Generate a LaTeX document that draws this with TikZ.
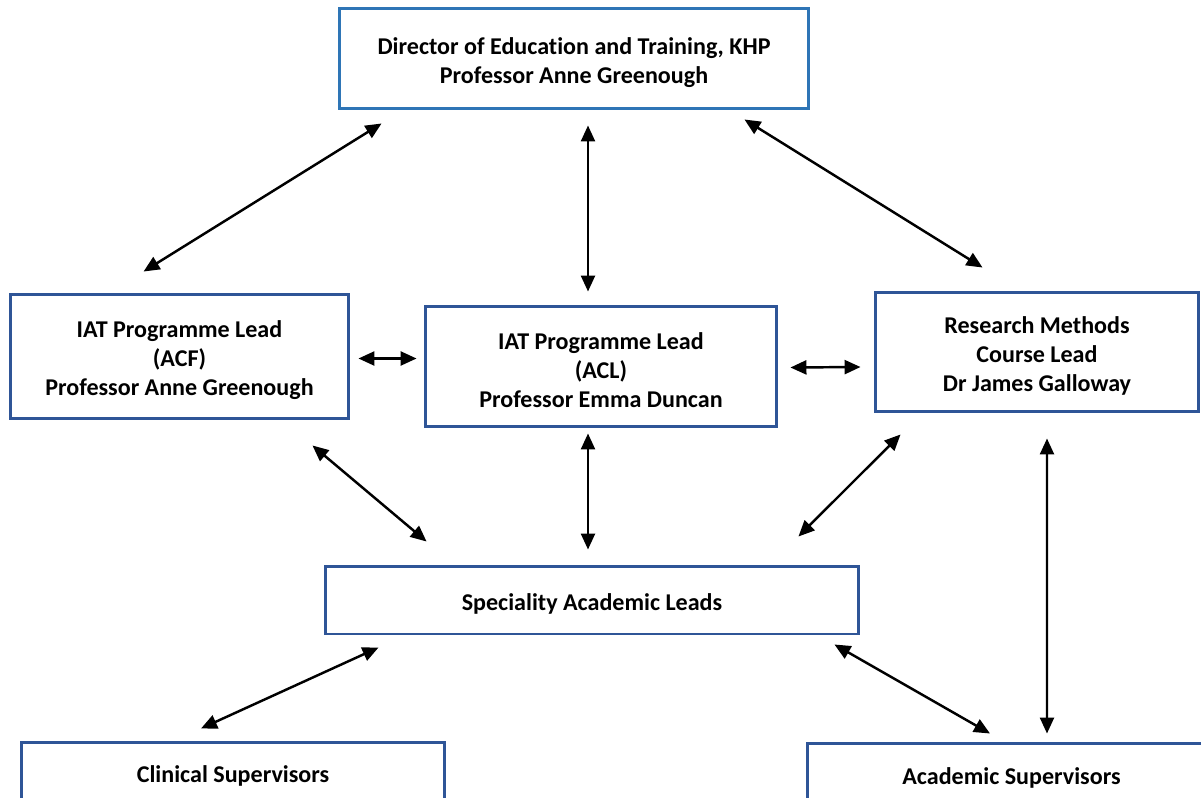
\documentclass[tikz,border=0pt]{standalone}
\usepackage{fontspec}
\setmainfont{Carlito}[Ligatures=NoCommon]
\usetikzlibrary{arrows.meta,calc}
\definecolor{topblue}{RGB}{46,117,182}
\definecolor{boxblue}{RGB}{47,85,151}
\newcommand\boxlift{\rule{0pt}{14pt}}
\begin{document}
\begin{tikzpicture}[x=0.02cm,y=-0.02cm]
\tikzstyle{every node}+=[inner sep=0pt]
\tikzstyle{box}=[draw=boxblue,line width=1.7pt,fill=white,align=center,font=\fontsize{13.7}{16.6}\selectfont\bfseries]
\tikzstyle{link}=[line width=1.4pt,{Triangle[length=3.2mm,width=2.8mm]}-{Triangle[length=3.2mm,width=2.8mm]}]
\clip (0,0) rectangle (1201,798);
\fill[white] (0,0) rectangle (1201,798);
\node[box,draw=topblue,minimum width=9.4cm,minimum height=2.02cm] (top) at (574,58.5) {\boxlift Director of Education and Training, KHP\\Professor Anne Greenough};
\node[box,minimum width=6.78cm,minimum height=2.5cm] (acf) at (179.5,356.5) {\boxlift IAT Programme Lead\\(ACF)\\Professor Anne Greenough};
\node[box,minimum width=7.04cm,minimum height=2.42cm] (acl) at (601,366.5) {\boxlift IAT Programme Lead\\(ACL)\\Professor Emma Duncan};
\node[box,minimum width=6.48cm,minimum height=2.4cm] (rm) at (1037,352) {\boxlift Research Methods\\Course Lead\\Dr James Galloway};
\node[box,minimum width=10.68cm,minimum height=1.36cm] (spec) at (592,600) {\boxlift Speciality Academic Leads};
\node[box,minimum width=8.48cm,minimum height=1.2cm] (clin) at (233,772) {\boxlift Clinical Supervisors};
\node[box,minimum width=8.18cm,minimum height=1.24cm] (acad) at (1011.5,774) {\boxlift Academic Supervisors};
\draw[link] ($(top.south west)+(44,13)$) -- ($(acf.north west)+(135,-21)$);
\draw[link] ($(top.south)+(14,15)$) -- ($(acl.north)+(-13,-13)$);
\draw[link] ($(top.south east)+(-66,9)$) -- ($(rm.north west)+(109,-23)$);
\draw[link] ($(acf.east)+(8,2)$) -- ($(acl.west)+(-7,-8)$);
\draw[link] ($(acl.east)+(12,1)$) -- ($(rm.west)+(-13,15)$);
\draw[link] ($(acf.south east)+(-38,25)$) -- ($(spec.north west)+(103,-23)$);
\draw[link] ($(acl.south)+(-13,5)$) -- ($(spec.north)+(-4,-15)$);
\draw[link] ($(rm.south west)+(27,21)$) -- ($(spec.north east)+(-62,-28)$);
\draw[link] ($(rm.south)+(10,25)$) -- ($(acad.north)+(35.5,-8)$);
\draw[link] ($(spec.south west)+(55,12)$) -- ($(clin.north)+(-32,-12)$);
\draw[link] ($(spec.south east)+(-26,9)$) -- ($(acad.north)+(-21.5,-8)$);
\end{tikzpicture}
\end{document}
